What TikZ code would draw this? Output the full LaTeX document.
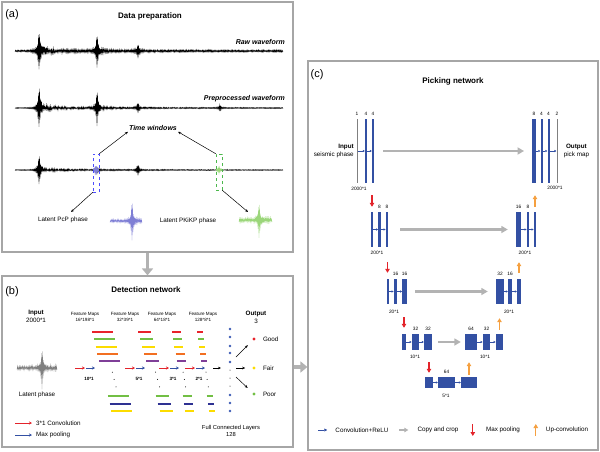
\documentclass[tikz,border=0pt]{standalone}
\usepackage{fontspec}
\setmainfont{Liberation Sans}
\usetikzlibrary{arrows.meta,positioning}

\definecolor{unetblue}{HTML}{3350A3}
\definecolor{copygray}{HTML}{B3B3B3}
\definecolor{poolred}{HTML}{E3242B}
\definecolor{uporange}{HTML}{F5A040}
\definecolor{fmred}{HTML}{E8232B}
\definecolor{fmgreen}{HTML}{72BF44}
\definecolor{fmyellow}{HTML}{FCDC00}
\definecolor{fmorange}{HTML}{F26F21}
\definecolor{fmpurple}{HTML}{7F3F98}
\definecolor{fmblue}{HTML}{2E3192}
\definecolor{dotblue}{HTML}{3C5AB4}
\definecolor{pcpblue}{HTML}{7F7FD5}
\definecolor{pkpgreen}{HTML}{9BD67A}

\tikzset{
  panel/.style={draw=gray!70, line width=1.2pt, inner sep=0pt},
  ttl/.style={font=\fontsize{8}{9}\selectfont\bfseries},
  tag/.style={font=\fontsize{11}{12}\selectfont},
  txt/.style={font=\fontsize{6.3}{7.8}\selectfont, inner sep=1pt},
  sml/.style={font=\fontsize{4.6}{5.8}\selectfont, inner sep=0.5pt},
  lbl/.style={font=\fontsize{4.8}{5}\selectfont, inner sep=0.5pt},
  wave/.style={line width=0.4pt, line join=miter},
  bigarr/.style={draw=gray!60, line width=3.5pt, -{Triangle[length=7pt,width=11pt]}},
  copyarr/.style={draw=copygray, line width=2.6pt, -{Triangle[length=6.5pt,width=7pt]}, shorten <=8pt, shorten >=8pt},
  pool/.style={draw=poolred, line width=1.2pt, -{Triangle[length=4pt,width=4.5pt]}},
  upconv/.style={draw=uporange, line width=1.2pt, -{Triangle[length=4pt,width=4.5pt]}},
  conv/.style={draw=unetblue, line width=0.6pt, -{Triangle[length=2pt,width=2.2pt]}},
  dred/.style={draw=poolred, line width=0.8pt, -{Stealth[length=3pt,width=3pt]}},
  dblue/.style={draw=unetblue, line width=0.8pt, -{Stealth[length=3pt,width=3pt]}},
  thinarr/.style={line width=0.5pt, -{Stealth[length=3pt,width=2.6pt]}},
  umap/.style={fill=unetblue, inner sep=0pt, minimum width=#1},
  inmap/.style={fill=gray, inner sep=0pt, minimum width=0.8pt},
  rowa/.style={minimum height=64pt},
  rowb/.style={minimum height=35pt},
  rowc/.style={minimum height=25pt},
  rowd/.style={minimum height=16pt},
  rowe/.style={minimum height=11pt},
  ch/.style={label={[lbl]above:#1}},
  fbar/.style={line width=2pt},
  odot/.style={circle, inner sep=0pt, minimum size=3.2pt},
}

\begin{document}
\begin{tikzpicture}[x=1pt, y=-1pt, label distance=2.5pt,
  declare function={
    pk(\vx,\vc,\vw)=1/(1+(min(abs(\vx-\vc),50)/\vw)^2);
    cd(\vx,\vc,\vw)=(\vx>\vc)/(1+abs(\vx-\vc)/\vw);
    quake(\vx,\vn,\vp,\vq,\vr)=\vn*(0.3+0.7*rnd)+(\vp*pk(\vx,39,1.1)+\vq*pk(\vx,97,0.9)+\vr*pk(\vx,138,0.9))*(0.85+0.15*rnd)+(0.25*\vp*cd(\vx,39,10)+0.12*\vq*cd(\vx,97,4))*rnd;
    blip(\vx,\vc,\va,\vn)=\vn*(0.3+0.7*rnd)+\va*pk(\vx,\vc,0.9)*(0.85+0.15*rnd)+0.15*\va*cd(\vx,\vc,3)*rnd;
    alt(\vx)=cos(360*mod(\vx,10));
  }]
  \pgfmathsetseed{7}
  \useasboundingbox (0,0) rectangle (600,452);

  % panels
  \node[panel, minimum width=291pt, minimum height=250pt] (pa) at (147.5,127) {};
  \node[panel, minimum width=291pt, minimum height=171pt] (pb) at (147.5,361.5) {};
  \node[panel, minimum width=290pt, minimum height=389pt] (pc) at (453,255.5) {};
  \draw[bigarr] (pa.south) -- (pb.north);
  \coordinate (bout) at ([yshift=-5.5pt]pb.east);
  \draw[bigarr] (bout) -- (bout -| pc.west);

  % (a) data preparation
  \node[tag] (taga) at (12,15) {(a)};
  \node[ttl] (ttla) at (150,16) {Data preparation};
  \node[txt, font=\fontsize{7}{8}\selectfont\bfseries\itshape, anchor=east] (raw) at (286,42) {Raw waveform};
  \node[txt, font=\fontsize{7}{8}\selectfont\bfseries\itshape, anchor=east] (pre) at (286,99) {Preprocessed waveform};
  \draw[wave] plot[domain=15:283, samples=537] (\x, {51+quake(\x,1,19,18,7)*alt(\x)});
  \draw[wave] plot[domain=15:283, samples=537] (\x, {108+(quake(\x,0.4,20,18,5)+3*pk(\x,220,0.8))*alt(\x)});
  \draw[wave] plot[domain=15:283, samples=537] (\x, {170+quake(\x,0.4,14,3,6)*alt(\x)});
  \draw[wave, pcpblue, line width=0.6pt] plot[domain=93:99, samples=13] (\x, {170+blip(\x,96,4,0.8)*alt(\x)});
  \draw[wave, pkpgreen, line width=0.6pt] plot[domain=216:222, samples=13] (\x, {170+blip(\x,219,2,0.6)*alt(\x)});
  \node[draw=blue!70, dashed, line width=0.5pt, minimum width=6pt, minimum height=38pt, inner sep=0pt] (wpcp) at (96,173) {};
  \node[draw=green!60!black!70, dashed, line width=0.5pt, minimum width=6pt, minimum height=36pt, inner sep=0pt] (wpkp) at (219,172) {};
  \node[txt, font=\fontsize{7}{8}\selectfont\bfseries\itshape] (tw) at (153,128) {Time windows};
  \draw[thinarr] (wpcp.north east) -- (tw.south west);
  \draw[thinarr] (wpkp.north west) -- (tw.south east);
  \node[txt] (lpcp) at (63,220) {Latent PcP phase};
  \node[txt] (lpkp) at (188,221) {Latent PKiKP phase};
  \coordinate (pcpend) at (71,212);
  \coordinate (pkpend) at (248,212);
  \draw[thinarr] (wpcp.south west) -- (pcpend);
  \draw[thinarr] (wpkp.south east) -- (pkpend);
  \draw[wave, pcpblue, line width=0.35pt] plot[domain=110:142, samples=65] (\x, {221+blip(\x,132,20,1.6)*alt(\x)});
  \draw[wave, pkpgreen, line width=0.35pt] plot[domain=239:272, samples=67] (\x, {220+blip(\x,259,18,2.2)*alt(\x)});

  % (b) detection network
  \node[tag] (tagb) at (12,292) {(b)};
  \node[ttl] (ttlb) at (146,290) {Detection network};
  \node[txt, align=center] (inb) at (36,316) {\textbf{Input}\\2000*1};
  \draw[wave, gray, line width=0.35pt] plot[domain=17:57, samples=81] (\x, {368+blip(\x,42,20,2.2)*alt(\x)});
  \node[txt] (lph) at (37,395) {Latent phase};
  \foreach \px/\fm in {85/16*198*1, 125/32*39*1, 162/64*18*1, 203/128*8*1}
    \node[sml, align=center] at (\px,317) {Feature Maps\\\fm};
  \foreach \px/\len/\dd in {92/21/1.8, 138/13/2, 172/9/1.2, 197/6/1.1} {
    \foreach \k/\cl in {0/fmred, 1/fmgreen, 2/fmyellow, 3/fmorange, 4/fmpurple, 8.8/fmgreen, 9.8/fmblue, 10.8/fmyellow}
      \draw[fbar, draw=\cl] ({\px+\dd*\k}, {332+7.3*\k}) -- ++(\len,0);
    \foreach \k in {5.5, 6.5, 7.5}
      \fill ({\px+\dd*\k+\len/2}, {332+7.3*\k}) circle (0.5pt);
  }
  \foreach \px/\lab in {75/10*1, 125/5*1, 159/3*1, 185/2*1} {
    \draw[dred] (\px,368) -- ++(10,0);
    \draw[dblue] ({\px+11},368) -- ++(9,0);
    \node[sml, font=\fontsize{4.6}{5.8}\selectfont\bfseries] at ({\px+14},378.5) {\lab};
  }
  \draw[thinarr] (213,368) -- (221,368);
  \foreach \y in {329, 337, 346, 353, 362, 395, 403, 411}
    \fill[dotblue] (230,\y) circle (1.4pt);
  \foreach \y in {370, 378, 386}
    \fill (230,\y) circle (0.5pt);
  \node[txt, align=center, font=\fontsize{5.8}{7}\selectfont] (fcl) at (231,431) {Full Connected Layers\\128};
  \node[txt, align=center] (outb) at (256,317.5) {\textbf{Output}\\3};
  \node[odot, fill=fmred] (good) at (254,339) {};
  \node[odot, fill=fmyellow] (fair) at (254,368) {};
  \node[odot, fill=fmgreen] (poor) at (254,394) {};
  \node[txt, right=6pt of good] {Good};
  \node[txt, right=6pt of fair] {Fair};
  \node[txt, right=6pt of poor] {Poor};
  \coordinate (fcoa) at (236,357);
  \coordinate (fcob) at (236,368);
  \coordinate (fcoc) at (236,377);
  \draw[thinarr, shorten >=7pt] (fcoa) -- (good);
  \draw[thinarr, shorten >=7pt] (fcob) -- (fair);
  \draw[thinarr, shorten >=7pt] (fcoc) -- (poor);
  \node[txt, anchor=west] (lgconv3) at (35,423) {3*1 Convolution};
  \node[txt, anchor=west] (lgmaxp) at (35,435) {Max pooling};
  \draw[dred] ([xshift=-20pt]lgconv3.west) -- ([xshift=-3pt]lgconv3.west);
  \draw[dblue] ([xshift=-20pt]lgmaxp.west) -- ([xshift=-3pt]lgmaxp.west);

  % (c) picking network
  \node[tag] (tagc) at (317,75) {(c)};
  \node[ttl] (ttlc) at (453,81) {Picking network};
  % level 1
  \node[inmap, rowa, ch=1] (in0) at (357,151) {};
  \node[umap=2pt, rowa, ch=4] (e1a) at (366,151) {};
  \node[umap=2pt, rowa, ch=4] (e1b) at (373,151) {};
  \node[umap=3.5pt, rowa, ch=8] (d1a) at (534,151) {};
  \node[umap=2pt, rowa, ch=4] (d1b) at (541.5,151) {};
  \node[umap=2pt, rowa, ch=4] (d1c) at (548.5,151) {};
  \node[inmap, rowa, ch=2] (out0) at (557,151) {};
  % level 2
  \node[umap=2pt, rowb] (e2a) at (372,229.5) {};
  \node[umap=2.5pt, rowb, ch=8] (e2b) at (379.5,229.5) {};
  \node[umap=2.5pt, rowb, ch=8] (e2c) at (387,229.5) {};
  \node[umap=5pt, rowb, ch=16] (d2a) at (518.5,229.5) {};
  \node[umap=2.5pt, rowb, ch=8] (d2b) at (528,229.5) {};
  \node[umap=2.5pt, rowb] (d2c) at (535,229.5) {};
  % level 3
  \node[umap=2pt, rowc] (e3a) at (387.5,291.5) {};
  \node[umap=3.5pt, rowc, ch=16] (e3b) at (395.5,291.5) {};
  \node[umap=4.5pt, rowc, ch=16] (e3c) at (404.5,291.5) {};
  \node[umap=8pt, rowc, ch=32] (d3a) at (500,291.5) {};
  \node[umap=4pt, rowc, ch=16] (d3b) at (510,291.5) {};
  \node[umap=4pt, rowc] (d3c) at (519,291.5) {};
  % level 4
  \node[umap=4pt, rowd] (e4a) at (404,342) {};
  \node[umap=7.5pt, rowd, ch=32] (e4b) at (415.5,342) {};
  \node[umap=8pt, rowd, ch=32] (e4c) at (428,342) {};
  \node[umap=12pt, rowd, ch=64] (d4a) at (471,342) {};
  \node[umap=7.5pt, rowd, ch=32] (d4b) at (486.5,342) {};
  \node[umap=7.5pt, rowd] (d4c) at (499.5,342) {};
  % level 5
  \node[umap=8pt, rowe] (b5a) at (429,382.5) {};
  \node[umap=17pt, rowe, ch=64] (b5b) at (446.5,382.5) {};
  \node[umap=16pt, rowe] (b5c) at (469,382.5) {};

  \draw[conv] (in0) -- (e1a);
  \draw[conv] (e1a) -- (e1b);
  \draw[conv] (d1a) -- (d1b);
  \draw[conv] (d1b) -- (d1c);
  \draw[conv] (d1c) -- (out0);
  \draw[conv] (e2a) -- (e2b);
  \draw[conv] (e2b) -- (e2c);
  \draw[conv] (d2a) -- (d2b);
  \draw[conv] (d2b) -- (d2c);
  \draw[conv] (e3a) -- (e3b);
  \draw[conv] (e3b) -- (e3c);
  \draw[conv] (d3a) -- (d3b);
  \draw[conv] (d3b) -- (d3c);
  \draw[conv] (e4a) -- (e4b);
  \draw[conv] (e4b) -- (e4c);
  \draw[conv] (d4a) -- (d4b);
  \draw[conv] (d4b) -- (d4c);
  \draw[conv] (b5a) -- (b5b);
  \draw[conv] (b5b) -- (b5c);

  \draw[copyarr, shorten <=9pt] (e1b) -- (d1a);
  \draw[copyarr, shorten <=12pt] (e2c) -- (d2a);
  \draw[copyarr] (e3c) -- (d3a);
  \draw[copyarr, shorten <=6pt, shorten >=4pt] (e4c) -- (d4a);

  \draw[pool, shorten <=12pt, shorten >=5pt] (e2a.north |- e1b.south) -- (e2a.north);
  \draw[pool, shorten <=15pt, shorten >=6pt] (e3a.north |- e2c.south) -- (e3a.north);
  \draw[pool, shorten <=13pt, shorten >=6pt] (e4a.north |- e3c.south) -- (e4a.north);
  \draw[pool, shorten <=12pt, shorten >=4pt] (b5a.north |- e4c.south) -- (b5a.north);
  \draw[upconv, shorten <=2pt, shorten >=12pt] (b5c.north) -- (b5c.north |- d4a.south);
  \draw[upconv, shorten <=4pt, shorten >=14pt] (d4c.north) -- (d4c.north |- d3a.south);
  \draw[upconv, shorten <=6pt, shorten >=15pt] (d3c.north) -- (d3c.north |- d2a.south);
  \draw[upconv, shorten <=5pt, shorten >=12pt] (d2c.north) -- (d2c.north |- d1a.south);

  \node[txt, align=right, left=1.5pt of in0] (inc) {\textbf{Input}\\seismic phase};
  \node[txt, align=center, right=5pt of out0] (outc) {\textbf{Output}\\pick map};
  \node[lbl] at (359,189) {2000*1};
  \node[lbl] at (555,188) {2000*1};
  \node[lbl] at (377,253) {200*1};
  \node[lbl] at (525,253) {200*1};
  \node[lbl] at (394,312) {20*1};
  \node[lbl] at (509,312) {20*1};
  \node[lbl] at (415,357) {10*1};
  \node[lbl] at (485,357) {10*1};
  \node[lbl] at (446,396) {5*1};

  % legend
  \node[txt] (lgrelu) at (362,430) {Convolution+ReLU};
  \node[txt] (lgcopy) at (438,430) {Copy and crop};
  \node[txt] (lgmax) at (503,430) {Max pooling};
  \node[txt] (lgup) at (567,430) {Up-convolution};
  \draw[conv, line width=0.8pt, -{Triangle[length=3pt,width=3pt]}] ([xshift=-16pt]lgrelu.west) -- ([xshift=-7pt]lgrelu.west);
  \draw[copyarr, line width=1.5pt, shorten <=0pt, shorten >=0pt, -{Triangle[length=4pt,width=4.5pt]}] ([xshift=-17pt]lgcopy.west) -- ([xshift=-8pt]lgcopy.west);
  \draw[pool] ([xshift=-12pt, yshift=6pt]lgmax.west) -- ([xshift=-12pt, yshift=-6pt]lgmax.west);
  \draw[upconv] ([xshift=-9pt, yshift=-6pt]lgup.west) -- ([xshift=-9pt, yshift=6pt]lgup.west);
\end{tikzpicture}
\end{document}
